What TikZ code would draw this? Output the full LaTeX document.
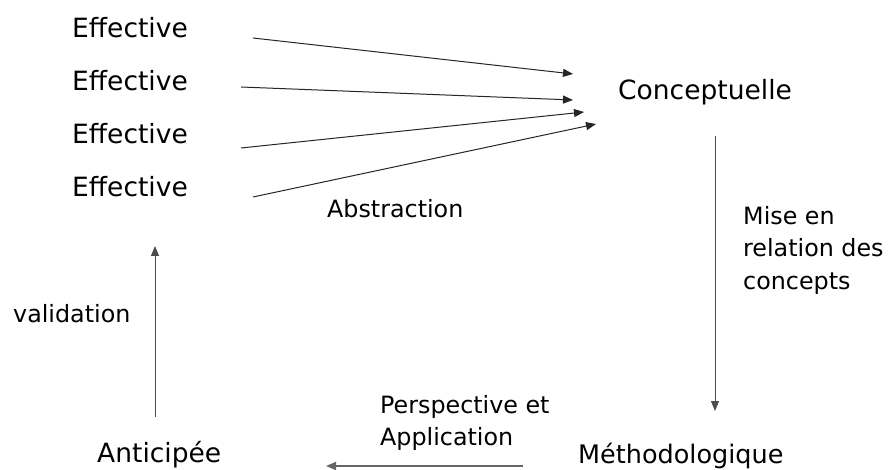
\documentclass[tikz,border=0pt]{standalone}
\usepackage{fontspec}
\setmainfont{DejaVu Sans}
\usetikzlibrary{arrows.meta}
\tikzset{
  big/.style={font=\fontsize{26.5}{32}\selectfont, inner sep=0pt, anchor=base west},
  small/.style={font=\fontsize{23.8}{33}\selectfont, inner sep=0pt, anchor=base west, align=left},
  arr/.style={-{Triangle[length=10pt,width=8pt]}, line width=1pt, black!85},
}

\begin{document}
\begin{tikzpicture}[x=1pt,y=-1pt]
\useasboundingbox (0,0) rectangle (891,470);
\node[big] (eff1) at (72,38) {Effective};
\node[big] (eff2) at (72,91) {Effective};
\node[big] (eff3) at (72,144) {Effective};
\node[big] (eff4) at (72,197) {Effective};
\node[big] (concept) at (618,100) {Conceptuelle};
\node[big, font=\fontsize{25.5}{32}\selectfont] (method) at (578,463) {Méthodologique};
\node[big] (antic) at (97,462) {Anticipée};
\node[small] (abstr) at (327,218) {Abstraction};
\node[small] (valid) at (13,322) {validation};
% base of a multi-line node = last line
\node[small] (mise) at (743,290) {Mise en\\relation des\\concepts};
\node[small, font=\fontsize{23.8}{32}\selectfont] (persp) at (380,445) {Perspective et\\Application};
% ends of the abstraction arrows
\coordinate (from1) at (253,38);
\coordinate (from2) at (241,87);
\coordinate (from3) at (241,148);
\coordinate (from4) at (253,197);
\coordinate (to1) at (573,74);
\coordinate (to2) at (573,100);
\coordinate (to3) at (584,112);
\coordinate (to4) at (596,124);
\draw[arr] (from1) -- (to1);
\draw[arr] (from2) -- (to2);
\draw[arr] (from3) -- (to3);
\draw[arr] (from4) -- (to4);
% cycle
\coordinate (down1) at (715,136);
\coordinate (down2) at (715,411);
\draw[arr, black!70] (down1) -- (down2);
\coordinate (back1) at (523,466);
\coordinate (back2) at (326,466);
\draw[arr, black!60, line width=1.8pt] (back1) -- (back2);
\coordinate (up1) at (155,417);
\coordinate (up2) at (155,246);
\draw[arr, black!70] (up1) -- (up2);
\end{tikzpicture}
\end{document}
